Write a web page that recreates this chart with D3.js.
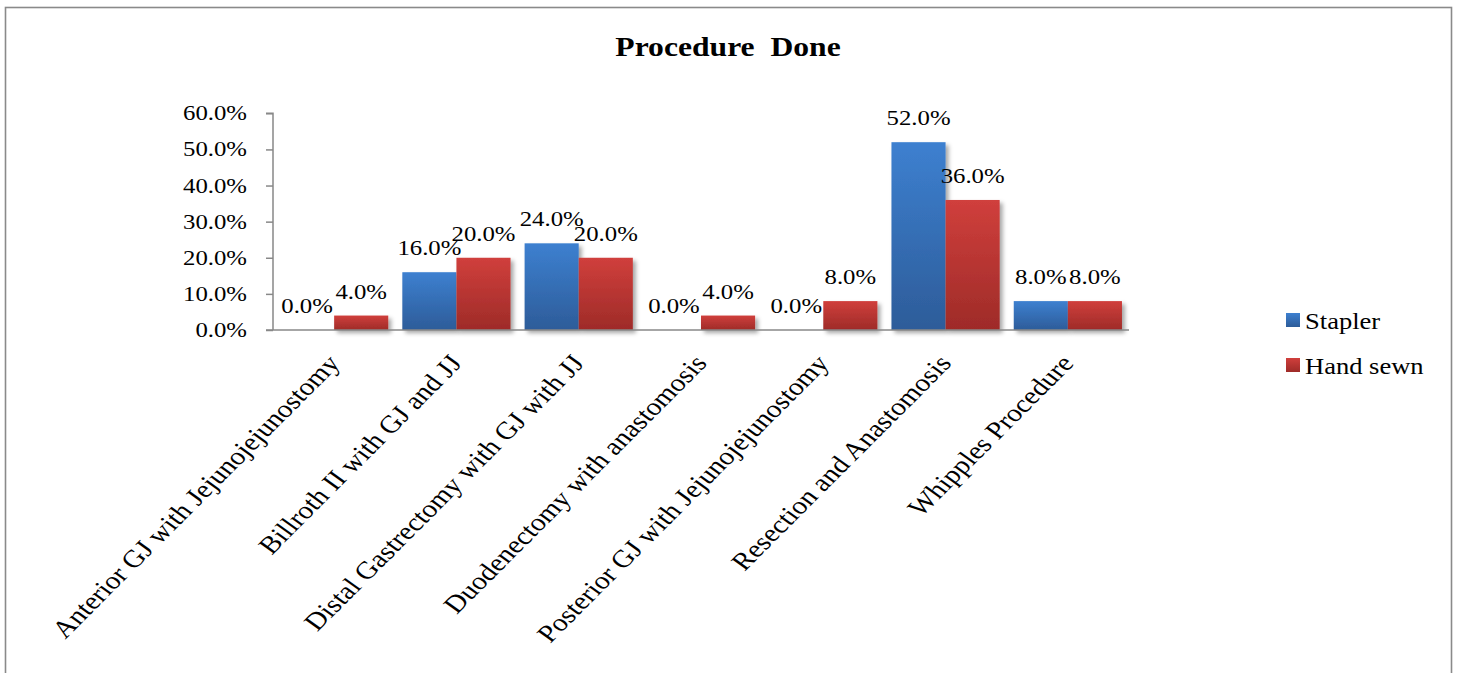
<!DOCTYPE html>
<html>
<head>
<meta charset="utf-8">
<script src="https://cdn.jsdelivr.net/npm/d3@7"></script>
<style>
  html, body { margin: 0; padding: 0; background: #fff; }
  svg { display: block; }
  text { font-family: "Liberation Serif", "Times New Roman", serif; fill: #000; white-space: pre; }
</style>
</head>
<body>
<svg id="chart" width="1461" height="673"></svg>
<script>
const categories = [
  "Anterior GJ with Jejunojejunostomy",
  "Billroth II with GJ and JJ",
  "Distal Gastrectomy with GJ with JJ",
  "Duodenectomy with anastomosis",
  "Posterior GJ with Jejunojejunostomy",
  "Resection and Anastomosis",
  "Whipples Procedure"
];
const seriesNames = ["Stapler", "Hand sewn"];
const stapler = [0, 16, 24, 0, 0, 52, 8];
const handSewn = [4, 20, 20, 4, 8, 36, 8];
const yTicks = [0, 10, 20, 30, 40, 50, 60];
const title = "Procedure  Done";

const SX = 1.18; // horizontal stretch of the source picture
const svg = d3.select("#chart");
const defs = svg.append("defs");

const grads = {
  "Stapler": ["#3d80d0", "#2d5c99"],
  "Hand sewn": ["#d03f3c", "#9e2b28"]
};
Object.entries(grads).forEach(([k, c], i) => {
  const g = defs.append("linearGradient").attr("id", "g" + i)
    .attr("x1", 0).attr("y1", 0).attr("x2", 0).attr("y2", 1);
  g.append("stop").attr("offset", "0%").attr("stop-color", c[0]);
  g.append("stop").attr("offset", "100%").attr("stop-color", c[1]);
});
const f = defs.append("filter").attr("id", "shadow")
  .attr("x", "-20%").attr("y", "-20%").attr("width", "150%").attr("height", "150%");
f.append("feDropShadow").attr("dx", 3).attr("dy", 3).attr("stdDeviation", 2.2)
  .attr("flood-color", "#000").attr("flood-opacity", 0.35);

// border
svg.append("rect").attr("x", 5.5).attr("y", 7.5).attr("width", 1446).attr("height", 700)
  .attr("fill", "none").attr("stroke", "#8a8a8a").attr("stroke-width", 1.6);

// title
svg.append("text")
  .attr("transform", `translate(728,56) scale(${SX},1)`)
  .attr("text-anchor", "middle").attr("font-weight", "bold").attr("font-size", 26.8)
  .attr("xml:space", "preserve")
  .text(title);

const x0 = 273, x1 = 1129, yBase = 330, yTop = 113.3;
const x = d3.scaleBand().domain(categories).range([x0, x1]).paddingInner(0).paddingOuter(0);
const xs = d3.scaleBand().domain(seriesNames).range([0, x.bandwidth()]).paddingInner(0).paddingOuter(0.13);
const y = d3.scaleLinear().domain([0, 60]).range([yBase, yTop]);

const values = { "Stapler": stapler, "Hand sewn": handSewn };

// bars
seriesNames.forEach((s, si) => {
  svg.append("g").attr("filter", "url(#shadow)")
    .selectAll("rect").data(categories.map((c, i) => ({ c, v: values[s][i] })))
    .join("rect")
    .attr("x", d => x(d.c) + xs(s))
    .attr("y", d => y(d.v))
    .attr("width", xs.bandwidth())
    .attr("height", d => yBase - y(d.v))
    .attr("fill", `url(#g${si})`);
});

// y axis
const yAxis = svg.append("g").attr("transform", `translate(${x0},0)`)
  .call(d3.axisLeft(y).tickValues(yTicks).tickSize(7).tickFormat(""));
yAxis.select(".domain").attr("stroke", "#888").attr("stroke-width", 1.5).attr("d", `M-7,${yTop}H0V${yBase}`);
yAxis.selectAll(".tick line").attr("stroke", "#888").attr("stroke-width", 1.5);
svg.append("g").selectAll("text").data(yTicks).join("text")
  .attr("transform", d => `translate(247,${y(d) + 7}) scale(${SX},1)`)
  .attr("text-anchor", "end").attr("font-size", 21)
  .text(d => d.toFixed(1) + "%");

// x axis
const xAxis = svg.append("g").attr("transform", `translate(0,${yBase})`)
  .call(d3.axisBottom(x).tickSize(0).tickFormat(""));
xAxis.select(".domain").attr("stroke", "#888").attr("stroke-width", 1.5).attr("d", `M${x0 - 7},0H${x1}`);

// category labels
svg.append("g").selectAll("text").data(categories).join("text")
  .attr("transform", d => `translate(${x(d) + x.bandwidth() / 2 + 7},364) scale(${SX},1) rotate(-49.7)`)
  .attr("text-anchor", "end").attr("font-size", 24.8)
  .text(d => d);

// data labels
seriesNames.forEach(s => {
  svg.append("g").selectAll("text").data(categories.map((c, i) => ({ c, v: values[s][i] })))
    .join("text")
    .attr("transform", d => `translate(${x(d.c) + xs(s) + xs.bandwidth() / 2},${y(d.v) - 17}) scale(${SX},1)`)
    .attr("text-anchor", "middle").attr("font-size", 21)
    .text(d => d.v.toFixed(1) + "%");
});

// legend
const leg = svg.append("g");
seriesNames.forEach((s, i) => {
  const yy = 313 + i * 45;
  leg.append("rect").attr("x", 1286).attr("y", yy).attr("width", 14).attr("height", 14)
    .attr("fill", `url(#g${i})`);
  leg.append("text")
    .attr("transform", `translate(1305,${yy + 16}) scale(${SX},1)`)
    .attr("font-size", 22.5).text(s);
});
</script>
</body>
</html>
